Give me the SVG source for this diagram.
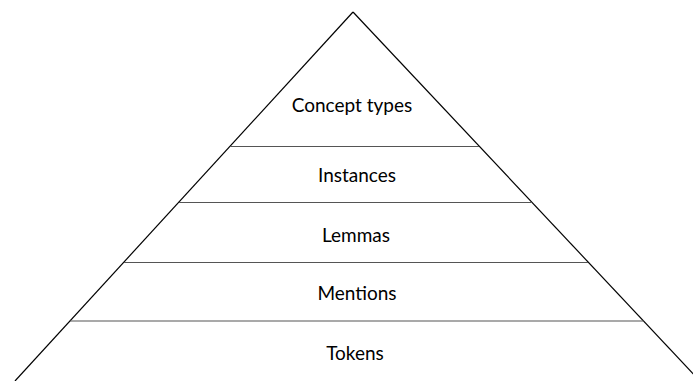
<svg xmlns="http://www.w3.org/2000/svg" width="693" height="381" viewBox="0 0 693 381">
  <style>
    .side { stroke: #000; stroke-width: 1.2; fill: none; }
    .tier { stroke: #555; stroke-width: 1.2; fill: none; }
    .label { font-family: Lato, "Open Sans", sans-serif; font-size: 19px; fill: #000; text-anchor: middle; }
  </style>
  <rect width="693" height="381" fill="#fff"/>
  <g id="connectors">
    <line class="side" x1="353" y1="12" x2="15" y2="381"/>
    <line class="side" x1="353" y1="12" x2="700" y2="381"/>
    <line class="tier" x1="230" y1="146.5" x2="479" y2="146.5"/>
    <line class="tier" x1="179" y1="202.5" x2="532" y2="202.5"/>
    <line class="tier" x1="124" y1="262.5" x2="588" y2="262.5"/>
    <line class="tier" x1="70" y1="321" x2="644" y2="321"/>
  </g>
  <g id="concept-types"><text class="label" x="352" y="112">Concept types</text></g>
  <g id="instances"><text class="label" x="357" y="182">Instances</text></g>
  <g id="lemmas"><text class="label" x="356" y="242">Lemmas</text></g>
  <g id="mentions"><text class="label" x="357" y="300">Mentions</text></g>
  <g id="tokens"><text class="label" x="355" y="360">Tokens</text></g>
</svg>
